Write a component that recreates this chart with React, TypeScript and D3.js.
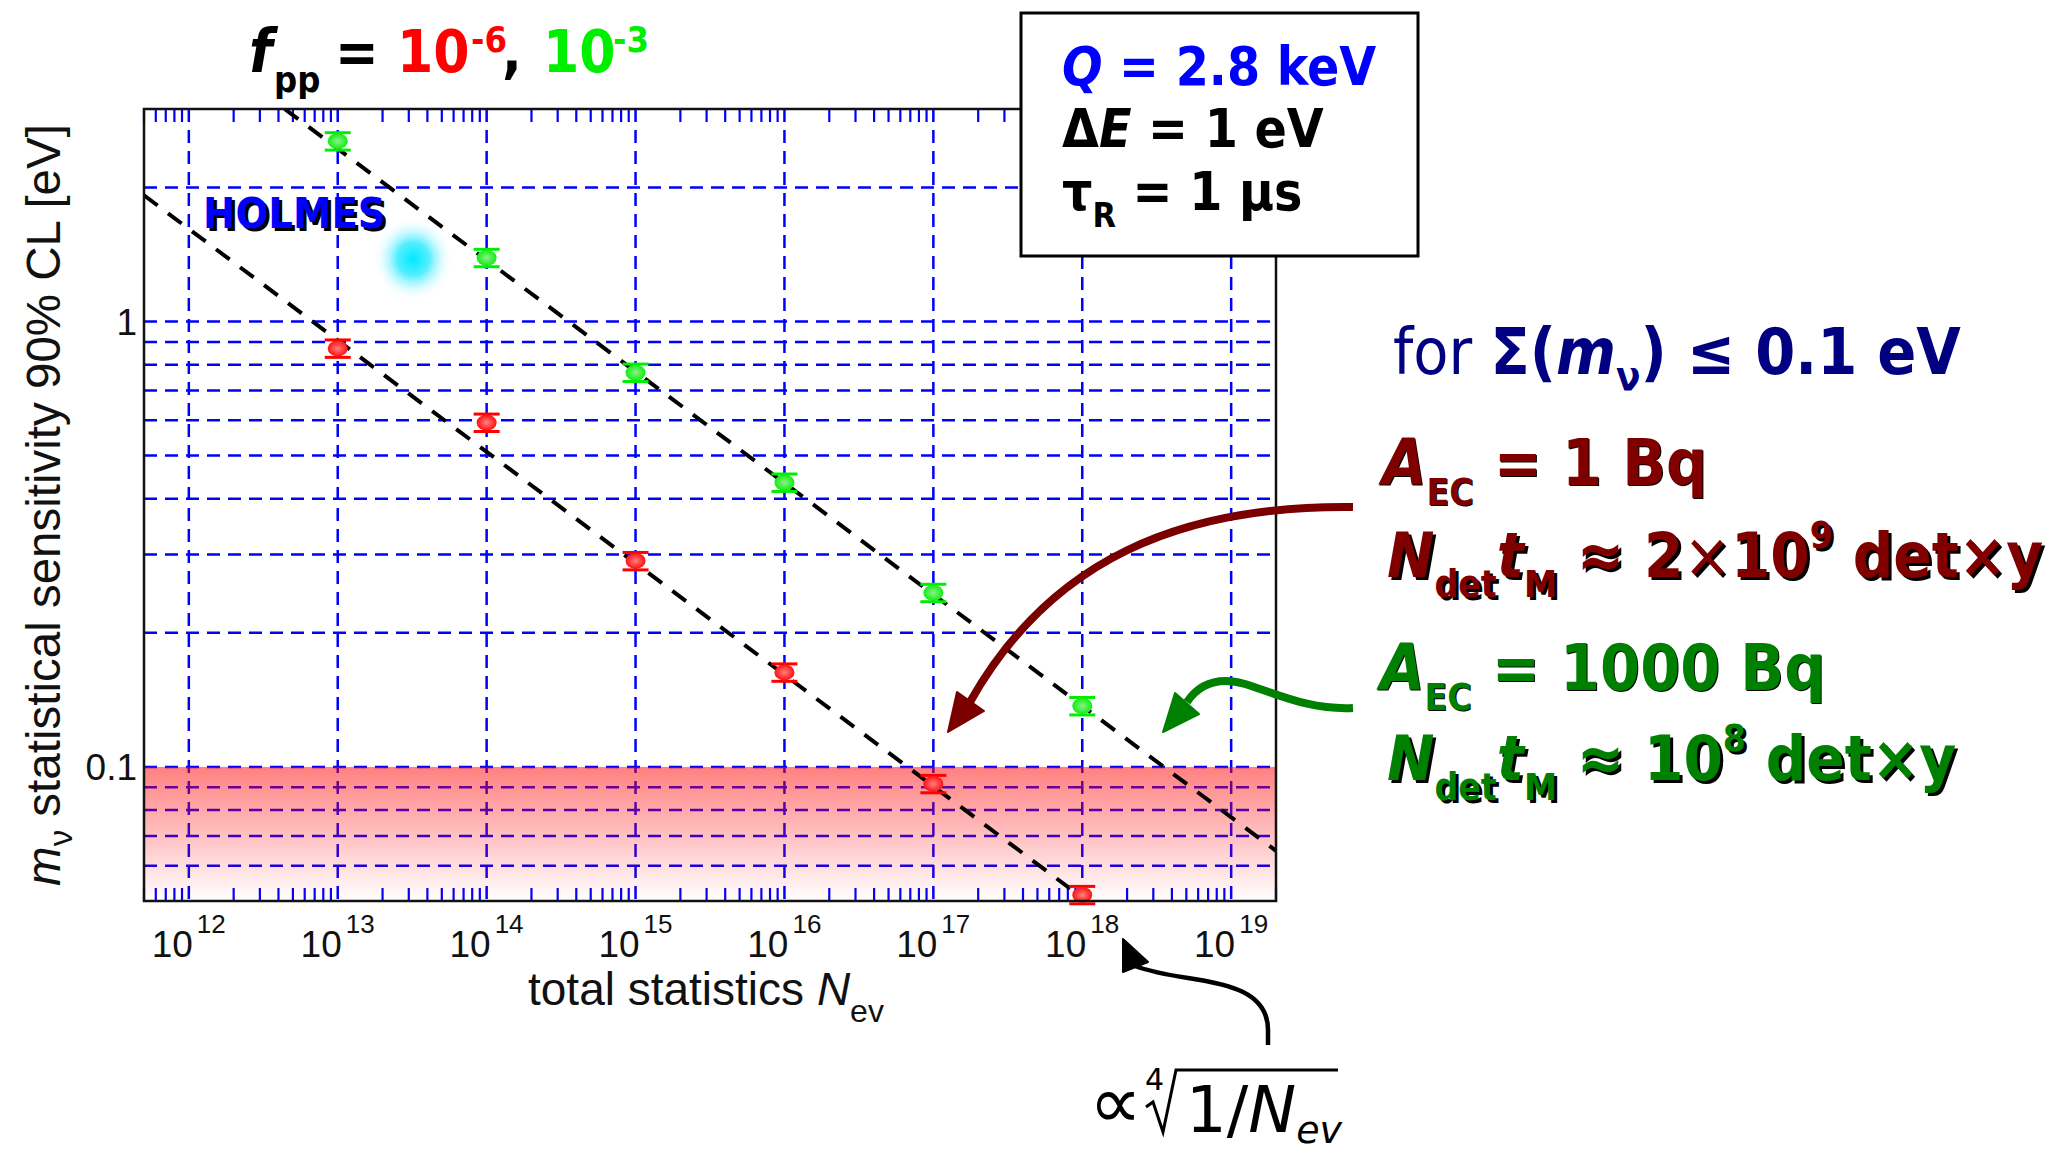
import * as d3 from 'd3';

// x: total statistics N_ev (decades shown on the axis)
const xDecades = [12, 13, 14, 15, 16, 17, 18, 19];
// y: tick labels
const yTickValues = [0.1, 1];
const yTickLabels = ['0.1', '1'];

// sensitivity points
const nEv = [1e13, 1e14, 1e15, 1e16, 1e17, 1e18];
const mRed = [0.87, 0.593, 0.29, 0.163, 0.0916, 0.0516]; // f_pp = 1e-6
const mGreen = [2.54, 1.39, 0.768, 0.435, 0.246, 0.137]; // f_pp = 1e-3
const errRed = [0.045, 0.045, 0.045, 0.045, 0.045, 0.045];
const errGreen = [0.045, 0.045, 0.045, 0.045, 0.045, 0.045];

// ∝ N^-1/4 guide lines (end points)
const fitRedN = [5e11, 1.07e18];
const fitRedM = [1.92, 0.05];
const fitGreenN = [4.4e12, 2e19];
const fitGreenM = [3.0, 0.0648];

// 0.1 eV reach band
const bandTop = 0.1;

const W = 2065;
const H = 1152;
const PL = 144, PR = 1276, PT = 109, PB = 901;

const COND = "'DejaVu Sans Condensed', 'DejaVu Sans', sans-serif";
const DEJA = "'DejaVu Sans', sans-serif";
const ARIAL = "'Liberation Sans', Arial, sans-serif";
const GRID = '#0000ff';

function ShadowText({ x, y, fill, children, size, dx = 3, dy = 3 }: any) {
  return (
    <g fontFamily={COND} fontStretch="condensed" fontWeight="bold" fontSize={size} style={{ whiteSpace: 'pre' }}>
      <text x={x + dx} y={y + dy} fill="#000">{children}</text>
      <text x={x} y={y} fill={fill}>{children}</text>
    </g>
  );
}

export default function App() {
  const x = d3.scaleLog().domain([5e11, 2e19]).range([PL, PR]);
  const y = d3.scaleLog().domain([0.05, 3]).range([PB, PT]);

  const xAll = x.ticks();
  const minorX = xAll.filter((v) => Math.abs(Math.log10(v) - Math.round(Math.log10(v))) > 1e-6);
  const yGrid = y.ticks().filter((v) => y(v) < PB - 2 && y(v) > PT + 2);

  const line = d3.line<[number, number]>().x((d) => x(d[0])).y((d) => y(d[1]));
  const redFit = line(fitRedN.map((n, i) => [n, fitRedM[i]]));
  const greenFit = line(fitGreenN.map((n, i) => [n, fitGreenM[i]]));

  const series = [
    { m: mRed, err: errRed, fill: 'url(#dotRed)', stroke: '#ff0000' },
    { m: mGreen, err: errGreen, fill: 'url(#dotGreen)', stroke: '#00ee00' },
  ];

  return (
    <svg width={W} height={H} style={{ position: 'absolute', left: 0, top: 0, background: '#fff' }}>
      <defs>
        <clipPath id="plotClip">
          <rect x={PL} y={PT} width={PR - PL} height={PB - PT} />
        </clipPath>
        <linearGradient id="band" x1="0" y1="0" x2="0" y2="1">
          <stop offset="0%" stopColor="#ff0000" stopOpacity={0.5} />
          <stop offset="100%" stopColor="#ff0000" stopOpacity={0} />
        </linearGradient>
        <radialGradient id="glow">
          <stop offset="0%" stopColor="#00eaff" />
          <stop offset="40%" stopColor="#55eeff" />
          <stop offset="100%" stopColor="#ffffff" stopOpacity={0} />
        </radialGradient>
        <radialGradient id="dotRed">
          <stop offset="0%" stopColor="#ff8080" />
          <stop offset="100%" stopColor="#ff1010" />
        </radialGradient>
        <radialGradient id="dotGreen">
          <stop offset="0%" stopColor="#8cf08c" />
          <stop offset="100%" stopColor="#10ee10" />
        </radialGradient>
      </defs>

      <rect x={0} y={0} width={W} height={H} fill="#fff" />

      {/* grid */}
      <g stroke={GRID} strokeWidth={2.5} strokeDasharray="13,8" fill="none">
        {yGrid.map((v) => (
          <line key={'gy' + v} x1={PL} x2={PR} y1={y(v)} y2={y(v)} />
        ))}
        {xDecades.map((k) => (
          <line key={'gx' + k} x1={x(10 ** k)} x2={x(10 ** k)} y1={PT} y2={PB} />
        ))}
      </g>

      {/* minor ticks top & bottom */}
      <g stroke={GRID} strokeWidth={2.2}>
        {minorX.map((v) => (
          <g key={'t' + v}>
            <line x1={x(v)} x2={x(v)} y1={PB} y2={PB - 13} />
            <line x1={x(v)} x2={x(v)} y1={PT} y2={PT + 13} />
          </g>
        ))}
      </g>

      {/* 0.1 eV band */}
      <rect x={PL} y={y(bandTop)} width={PR - PL} height={PB - y(bandTop)} fill="url(#band)" />

      {/* HOLMES glow */}
      <ellipse cx={413} cy={259} rx={40} ry={42} fill="url(#glow)" />
      <ShadowText x={203} y={228} size={43} fill="#0000ff">HOLMES</ShadowText>

      {/* guide lines */}
      <g clipPath="url(#plotClip)" fill="none" stroke="#000" strokeWidth={4} strokeDasharray="17,13">
        <path d={redFit ?? ''} />
        <path d={greenFit ?? ''} />
      </g>

      {/* points */}
      {series.map((s, si) => (
        <g key={'s' + si}>
          {nEv.map((n, i) => {
            const cx = x(n);
            const cy = y(s.m[i]);
            const y1 = y(s.m[i] * (1 + s.err[i]));
            const y2 = y(s.m[i] * (1 - s.err[i]));
            return (
              <g key={i}>
                <line x1={cx} x2={cx} y1={y1} y2={y2} stroke={s.stroke} strokeWidth={3} />
                <line x1={cx - 13} x2={cx + 13} y1={y1} y2={y1} stroke={s.stroke} strokeWidth={3} />
                <line x1={cx - 13} x2={cx + 13} y1={y2} y2={y2} stroke={s.stroke} strokeWidth={3} />
                <ellipse cx={cx} cy={cy} rx={10} ry={8} fill={s.fill} />
              </g>
            );
          })}
        </g>
      ))}

      {/* frame */}
      <rect x={PL} y={PT} width={PR - PL} height={PB - PT} fill="none" stroke="#111" strokeWidth={2.5} />

      {/* x tick labels */}
      <g fontFamily={ARIAL} fill="#111">
        {xDecades.map((k) => (
          <g key={'xl' + k}>
            <text x={x(10 ** k) + 4} y={957} fontSize={37} textAnchor="end">10</text>
            <text x={x(10 ** k) + 8} y={933} fontSize={26}>{k}</text>
          </g>
        ))}
      </g>
      {/* y tick labels */}
      <g fontFamily={ARIAL} fill="#111" fontSize={37} textAnchor="end">
        {yTickValues.map((v, i) => (
          <text key={'yl' + v} x={137} y={y(v) + 13}>{yTickLabels[i]}</text>
        ))}
      </g>

      {/* axis titles */}
      <text x={528} y={1005} fontFamily={ARIAL} fontSize={46} fill="#111">
        total statistics <tspan fontStyle="italic">N</tspan>
        <tspan fontSize={32} dy={17}>ev</tspan>
      </text>
      <text
        transform="translate(60,505) rotate(-90)"
        textAnchor="middle"
        fontFamily={ARIAL}
        fontSize={47.5}
        fill="#111"
      >
        <tspan fontStyle="italic">m</tspan>
        <tspan fontSize={33} dy={12}>ν</tspan>
        <tspan dy={-12}> statistical sensitivity 90% CL [eV]</tspan>
      </text>

      {/* title */}
      <g fontFamily={COND} fontStretch="condensed" fontWeight="bold">
        <text x={249} y={72} fontSize={60} fontStyle="italic" fill="#000">f</text>
        <text x={274} y={92} fontSize={36} fill="#000">pp</text>
        <text x={335} y={72} fontSize={58} fill="#000">=</text>
        <text x={397} y={72} fontSize={58} fill="#ff0000">10</text>
        <text x={471} y={52} fontSize={36} fill="#ff0000">-6</text>
        <text x={502} y={72} fontSize={58} fill="#000">,</text>
        <text x={543} y={72} fontSize={58} fill="#00ee00">10</text>
        <text x={613} y={52} fontSize={36} fill="#00ee00">-3</text>
      </g>

      {/* parameter box */}
      <rect x={1021} y={13} width={397} height={243} fill="#fff" stroke="#000" strokeWidth={3} />
      <g fontFamily={COND} fontStretch="condensed" fontWeight="bold" fontSize={53} style={{ whiteSpace: 'pre' }}>
        <text x={1062} y={85} fill="#0000ff">
          <tspan fontStyle="italic">Q</tspan> = 2.8 keV
        </text>
        <text x={1062} y={147} fill="#000">
          Δ<tspan fontStyle="italic">E</tspan> = 1 eV
        </text>
        <text x={1062} y={210} fill="#000">
          τ<tspan fontSize={34} dy={17}>R</tspan>
          <tspan dy={-17}> = 1 μs</tspan>
        </text>
      </g>

      {/* right annotations */}
      <text x={1393} y={374} fontFamily={COND} fontStretch="condensed" fontSize={64} fill="#000080" style={{ whiteSpace: 'pre' }}>
        for <tspan fontWeight="bold">Σ(</tspan>
        <tspan fontWeight="bold" fontStyle="italic">m</tspan>
        <tspan fontWeight="bold" fontSize={40} dy={16}>ν</tspan>
        <tspan fontWeight="bold" dy={-16}>) ≤ 0.1 eV</tspan>
      </text>

      <ShadowText x={1382} y={485} size={64} fill="#800000" dx={1} dy={1}>
        <tspan fontStyle="italic">A</tspan>
        <tspan fontSize={37} dy={20}>EC</tspan>
        <tspan dy={-20}> = 1 Bq</tspan>
      </ShadowText>
      <ShadowText x={1387} y={577} size={63} fill="#800000">
        <tspan fontStyle="italic">N</tspan>
        <tspan fontSize={37} dy={20}>det</tspan>
        <tspan fontStyle="italic" dy={-20}>t</tspan>
        <tspan fontSize={37} dy={20}>M</tspan>
        <tspan dy={-20}> ≈ 2</tspan>
        <tspan fontWeight="normal">×</tspan>
        <tspan>10</tspan>
        <tspan fontSize={37} dy={-29}>9</tspan>
        <tspan dy={29}>  det×y</tspan>
      </ShadowText>
      <ShadowText x={1380} y={690} size={64} fill="#008000" dx={1} dy={1}>
        <tspan fontStyle="italic">A</tspan>
        <tspan fontSize={37} dy={20}>EC</tspan>
        <tspan dy={-20}> = 1000 Bq</tspan>
      </ShadowText>
      <ShadowText x={1387} y={780} size={63} fill="#008000">
        <tspan fontStyle="italic">N</tspan>
        <tspan fontSize={37} dy={20}>det</tspan>
        <tspan fontStyle="italic" dy={-20}>t</tspan>
        <tspan fontSize={37} dy={20}>M</tspan>
        <tspan dy={-20}> ≈ 10</tspan>
        <tspan fontSize={37} dy={-29}>8</tspan>
        <tspan dy={29}> det×y</tspan>
      </ShadowText>

      {/* arrows */}
      <path d="M1353,507 C1180,505 1050,560 970,702" fill="none" stroke="#7a0000" strokeWidth={8} />
      <polygon points="948,732 957,692 984,711" fill="#7a0000" stroke="#7a0000" strokeWidth={2} strokeLinejoin="round" />
      <path d="M1353,708 C1310,710 1280,695 1245,684 C1220,677 1200,683 1187,702" fill="none" stroke="#008000" strokeWidth={8} />
      <polygon points="1163,732 1175,693 1199,714" fill="#008000" stroke="#008000" strokeWidth={2} strokeLinejoin="round" />
      <path d="M1268,1045 L1268,1030 C1268,992 1228,984 1188,978 C1162,974 1146,970 1135,966" fill="none" stroke="#000" strokeWidth={4.5} />
      <polygon points="1123,939 1123,972 1148,962" fill="#000" stroke="#000" strokeWidth={2} strokeLinejoin="round" />

      {/* ∝ (1/N_ev)^(1/4) */}
      <text x={1089} y={1128} fontFamily={DEJA} fontSize={74} fill="#000">∝</text>
      <text x={1145} y={1090} fontFamily={DEJA} fontSize={30} fill="#000">4</text>
      <path d="M1146,1107 L1153,1102 L1163,1132 L1176,1070 L1338,1070" fill="none" stroke="#000" strokeWidth={3} />
      <text x={1186} y={1132} fontFamily={DEJA} fontSize={64} fill="#000">
        1/<tspan fontStyle="italic">N</tspan>
        <tspan fontSize={38} fontStyle="italic" dy={11}>ev</tspan>
      </text>
    </svg>
  );
}
